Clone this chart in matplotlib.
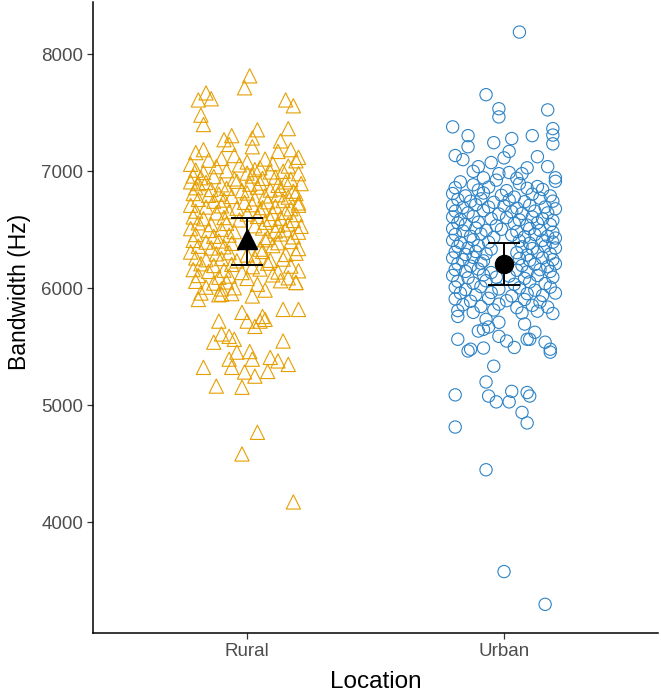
import matplotlib.pyplot as plt
import numpy as np

plt.rcParams['font.family'] = ['Liberation Sans', 'DejaVu Sans']

# categories and summary values
locations = ['Rural', 'Urban']
means = [6418, 6212]
ci_low = [6196, 6026]
ci_high = [6597, 6388]

# (jitter offset, bandwidth Hz) read point by point / estimated in dense areas
rural_pts = [
    # upper sparse
    (0.01, 7816), (-0.01, 7714), (-0.16, 7670), (-0.14, 7620), (-0.19, 7610),
    (0.15, 7610), (0.18, 7560), (-0.18, 7480), (-0.17, 7400), (0.04, 7355),
    (0.16, 7365), (-0.17, 7185), (-0.06, 7305), (-0.09, 7270), (-0.07, 7230),
    (0.02, 7285), (0.02, 7210), (0.17, 7185), (0.13, 7260),
    # dense band
    (-0.20, 7160), (-0.05, 7135), (0.12, 7170), (0.20, 7120),
    (-0.15, 7095), (-0.10, 7110), (0.00, 7080), (0.07, 7105), (0.19, 7090),
    (-0.22, 7060), (-0.12, 7040), (-0.03, 7055), (0.05, 7030), (0.10, 7065), (0.16, 7045),
    (-0.20, 7010), (-0.17, 6990), (-0.08, 7005), (0.00, 6985), (0.03, 7015), (0.09, 6995),
    (0.14, 7000), (0.20, 6980),
    (-0.21, 6960), (-0.18, 6945), (-0.13, 6955), (-0.05, 6935), (0.02, 6960), (0.06, 6940),
    (0.11, 6950), (0.17, 6930),
    (-0.22, 6910), (-0.19, 6895), (-0.16, 6905), (-0.10, 6885), (-0.04, 6915), (0.01, 6890),
    (0.05, 6900), (0.12, 6880), (0.15, 6910), (0.21, 6895),
    (-0.20, 6860), (-0.14, 6845), (-0.08, 6855), (-0.02, 6835), (0.04, 6865), (0.09, 6840),
    (0.13, 6850), (0.18, 6830),
    (-0.21, 6810), (-0.15, 6795), (-0.11, 6805), (-0.06, 6785), (0.00, 6815), (0.07, 6790),
    (0.12, 6800), (0.16, 6780), (0.19, 6810),
    (-0.19, 6760), (-0.13, 6745), (-0.09, 6755), (-0.01, 6735), (0.03, 6765), (0.08, 6740),
    (0.14, 6750), (0.20, 6730),
    (-0.22, 6710), (-0.16, 6695), (-0.10, 6705), (-0.04, 6685), (0.02, 6715), (0.06, 6690),
    (0.11, 6700), (0.17, 6680), (0.20, 6710),
    (-0.20, 6660), (-0.12, 6645), (-0.07, 6655), (0.00, 6635), (0.05, 6665), (0.10, 6640),
    (0.15, 6650), (0.19, 6630),
    (-0.21, 6610), (-0.17, 6595), (-0.09, 6605), (-0.03, 6585), (0.04, 6615), (0.09, 6590),
    (0.13, 6600), (0.18, 6580),
    (-0.19, 6560), (-0.14, 6545), (-0.08, 6555), (0.03, 6535), (0.07, 6565), (0.12, 6540),
    (0.16, 6550), (0.21, 6530),
    (-0.22, 6510), (-0.15, 6495), (-0.10, 6505), (-0.05, 6485), (0.06, 6515), (0.11, 6490),
    (0.15, 6500), (0.20, 6480),
    (-0.20, 6460), (-0.13, 6445), (-0.07, 6455), (0.08, 6435), (0.13, 6465), (0.18, 6440),
    (-0.21, 6410), (-0.16, 6395), (-0.11, 6405), (-0.06, 6385), (0.07, 6415), (0.12, 6390),
    (0.17, 6400),
    (-0.19, 6360), (-0.14, 6345), (-0.09, 6355), (0.05, 6335), (0.10, 6365), (0.20, 6340),
    (-0.22, 6310), (-0.12, 6295), (-0.07, 6305), (0.00, 6285), (0.06, 6315), (0.15, 6290),
    (0.19, 6300),
    (-0.20, 6260), (-0.16, 6245), (-0.10, 6255), (-0.04, 6235), (0.03, 6265), (0.09, 6240),
    (0.14, 6250),
    (-0.18, 6210), (-0.13, 6195), (-0.06, 6205), (0.02, 6185), (0.08, 6215), (0.17, 6190),
    (-0.21, 6160), (-0.15, 6145), (-0.09, 6155), (-0.02, 6135), (0.05, 6165), (0.12, 6140),
    (0.20, 6150),
    (-0.19, 6110), (-0.11, 6095), (-0.07, 6105), (0.00, 6085), (0.10, 6115), (0.16, 6090),
    (-0.20, 6060), (-0.13, 6045), (-0.08, 6055), (0.04, 6035), (0.13, 6065), (0.19, 6050),
    (-0.16, 6010), (-0.10, 5995), (-0.05, 6005), (0.07, 5985),
    (-0.18, 5960), (-0.11, 5945), (-0.06, 5955), (0.02, 5935),
    # lower sparse
    (-0.19, 5905), (-0.10, 5950), (-0.02, 5795), (0.06, 5760), (0.07, 5735),
    (0.14, 5820), (0.20, 5820), (0.19, 6050),
    (-0.11, 5720), (0.00, 5720), (0.05, 5720), (0.03, 5675), (-0.10, 5610),
    (-0.07, 5590), (-0.05, 5565), (-0.13, 5540), (0.14, 5550), (-0.04, 5455),
    (0.01, 5460), (-0.07, 5395), (0.02, 5395), (0.09, 5410), (0.12, 5380),
    (0.16, 5350), (-0.17, 5325), (-0.06, 5325), (-0.01, 5285), (0.03, 5250),
    (0.08, 5290), (-0.12, 5165), (-0.02, 5155), (0.04, 4770), (-0.02, 4585),
    (0.18, 4175),
]

urban_pts = [
    # upper sparse
    (0.06, 8190), (-0.07, 7655), (-0.02, 7535), (-0.02, 7465), (0.17, 7525),
    (-0.20, 7380), (-0.14, 7305), (-0.04, 7245), (0.03, 7280), (0.11, 7305),
    (0.19, 7365), (0.19, 7310), (0.19, 7235), (-0.14, 7210), (-0.19, 7135),
    (-0.16, 7100), (0.02, 7170), (0.00, 7115), (0.13, 7125), (0.17, 7040),
    (0.20, 6945), (-0.05, 7075), (-0.10, 7040), (-0.12, 7000), (-0.02, 6980),
    (0.02, 6990), (0.09, 7030), (0.07, 6980), (0.05, 6940), (-0.08, 6945),
    # dense band
    (-0.17, 6910), (-0.12, 6885), (-0.03, 6925), (0.06, 6895), (0.13, 6870), (0.20, 6915),
    (-0.19, 6860), (-0.10, 6840), (-0.06, 6865), (0.01, 6835), (0.09, 6855), (0.15, 6845),
    (-0.20, 6810), (-0.15, 6790), (-0.08, 6815), (-0.01, 6795), (0.04, 6780), (0.11, 6805),
    (0.18, 6790),
    (-0.18, 6760), (-0.13, 6745), (-0.09, 6765), (-0.04, 6735), (0.02, 6755), (0.08, 6740),
    (0.14, 6770), (0.19, 6745),
    (-0.20, 6710), (-0.16, 6690), (-0.11, 6715), (-0.06, 6695), (0.00, 6705), (0.05, 6685),
    (0.10, 6710), (0.16, 6695), (0.20, 6680),
    (-0.19, 6660), (-0.14, 6645), (-0.08, 6665), (-0.02, 6635), (0.03, 6655), (0.07, 6640),
    (0.12, 6660), (0.17, 6645),
    (-0.20, 6610), (-0.17, 6590), (-0.12, 6615), (-0.05, 6595), (0.01, 6605), (0.06, 6585),
    (0.11, 6610), (0.15, 6595), (0.19, 6580),
    (-0.18, 6560), (-0.15, 6545), (-0.10, 6565), (-0.03, 6535), (0.04, 6555), (0.09, 6540),
    (0.13, 6560), (0.18, 6545),
    (-0.20, 6510), (-0.16, 6490), (-0.11, 6515), (-0.07, 6495), (-0.01, 6505), (0.05, 6485),
    (0.10, 6510), (0.14, 6495), (0.19, 6480),
    (-0.19, 6460), (-0.13, 6445), (-0.09, 6465), (-0.04, 6435), (0.03, 6455), (0.08, 6440),
    (0.12, 6460), (0.17, 6445), (0.20, 6430),
    (-0.20, 6410), (-0.17, 6390), (-0.12, 6415), (-0.06, 6395), (0.06, 6405), (0.10, 6385),
    (0.15, 6410), (0.19, 6395),
    (-0.18, 6360), (-0.14, 6345), (-0.10, 6365), (-0.05, 6335), (0.07, 6355), (0.11, 6340),
    (0.16, 6360), (0.20, 6345),
    (-0.19, 6310), (-0.15, 6290), (-0.11, 6315), (-0.07, 6295), (0.05, 6305), (0.09, 6285),
    (0.13, 6310), (0.18, 6295),
    (-0.20, 6260), (-0.16, 6245), (-0.12, 6265), (-0.08, 6235), (0.06, 6255), (0.10, 6240),
    (0.15, 6260), (0.19, 6245),
    (-0.18, 6210), (-0.13, 6190), (-0.09, 6215), (0.07, 6195), (0.12, 6205), (0.17, 6185),
    (0.20, 6210),
    (-0.19, 6160), (-0.15, 6145), (-0.10, 6165), (-0.05, 6135), (0.05, 6155), (0.09, 6140),
    (0.14, 6160), (0.18, 6145),
    (-0.20, 6110), (-0.14, 6090), (-0.08, 6115), (-0.03, 6095), (0.02, 6105), (0.08, 6085),
    (0.13, 6110), (0.19, 6095),
    (-0.18, 6060), (-0.12, 6045), (-0.07, 6065), (0.04, 6035), (0.10, 6055), (0.16, 6040),
    (-0.19, 6010), (-0.15, 5990), (-0.09, 6015), (-0.02, 5995), (0.06, 6005), (0.12, 5985),
    (0.18, 6010),
    (-0.17, 5960), (-0.11, 5945), (-0.05, 5965), (0.03, 5935), (0.09, 5955), (0.15, 5940),
    (0.20, 5960),
    (-0.19, 5910), (-0.13, 5890), (-0.06, 5915), (0.01, 5895), (0.08, 5905), (0.14, 5885),
    (-0.16, 5860), (-0.09, 5845), (-0.02, 5865), (0.05, 5835), (0.11, 5855), (0.17, 5840),
    (-0.18, 5810), (-0.12, 5795), (-0.04, 5815), (0.07, 5790), (0.13, 5805), (0.19, 5785),
    # lower sparse
    (-0.18, 5760), (-0.07, 5735), (-0.10, 5635), (-0.08, 5650), (-0.06, 5670),
    (-0.02, 5590), (-0.02, 5710), (0.08, 5695), (0.12, 5625), (0.10, 5565),
    (0.01, 5550), (0.04, 5495), (-0.18, 5565), (-0.13, 5480), (-0.14, 5465),
    (-0.08, 5490), (0.09, 5565), (0.16, 5540), (0.18, 5480), (0.18, 5455),
    (-0.04, 5335), (-0.07, 5200), (-0.19, 5090), (-0.06, 5080), (-0.03, 5030),
    (0.03, 5120), (0.02, 5030), (0.09, 5110), (0.10, 5080), (0.07, 4940),
    (0.09, 4850), (-0.19, 4815), (-0.07, 4450), (0.00, 3580), (0.16, 3300),
]

orange = '#E69F00'
blue = '#2D83C6'

fig = plt.figure(figsize=(6.61, 6.97), dpi=100)
ax = fig.add_axes([0.1407, 0.0918, 0.855, 0.905])

rx = np.array([1 + p[0] for p in rural_pts])
ry = np.array([p[1] for p in rural_pts])
ux = np.array([2 + p[0] for p in urban_pts])
uy = np.array([p[1] for p in urban_pts])

ax.scatter(rx, ry, marker='^', s=105, facecolors='none', edgecolors=orange,
           linewidths=0.8, zorder=2)
ax.scatter(ux, uy, marker='o', s=78, facecolors='none', edgecolors=blue,
           linewidths=0.8, zorder=2)

# means with error bars
pos = [1, 2]
yerr = [[m - lo for m, lo in zip(means, ci_low)],
        [hi - m for m, hi in zip(means, ci_high)]]
ax.errorbar(pos, means, yerr=yerr, fmt='none', ecolor='black', elinewidth=1.4,
            capsize=11.5, capthick=1.4, zorder=3)
ax.plot(pos[0], means[0], marker='^', markersize=15, color='black', zorder=4)
ax.plot(pos[1], means[1], marker='o', markersize=13, color='black', zorder=4)

ax.set_xlim(0.4, 2.6)
ax.set_ylim(3055, 8445)
ax.set_xticks(pos)
ax.set_xticklabels(locations)
ax.set_yticks([4000, 5000, 6000, 7000, 8000])

for s in ['top', 'right']:
    ax.spines[s].set_visible(False)
for s in ['left', 'bottom']:
    ax.spines[s].set_linewidth(1.1)
    ax.spines[s].set_color('black')

ax.tick_params(axis='both', length=4, width=0.9, color='#333333',
               labelcolor='#4D4D4D', labelsize=13.5, pad=3)

ax.set_xlabel('Location', fontsize=17.5, color='black', labelpad=8)
ax.set_ylabel('Bandwidth (Hz)', fontsize=16.5, color='black')
ax.yaxis.set_label_coords(-0.11, 0.54)

fig.savefig('out.png', dpi=100)
